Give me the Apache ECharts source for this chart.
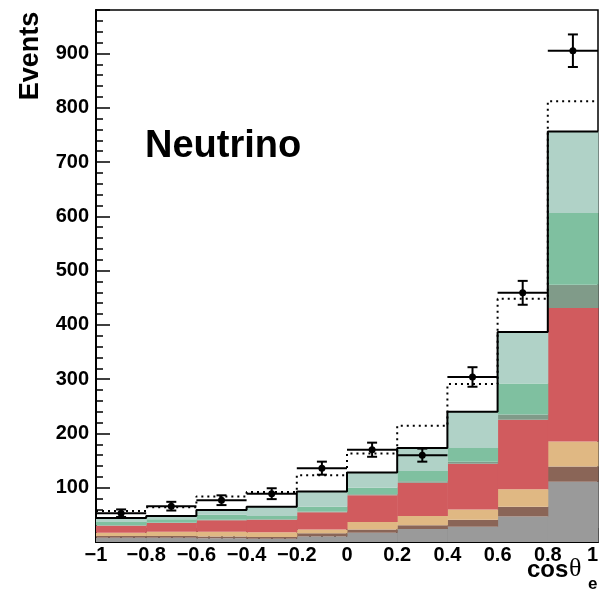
<!DOCTYPE html>
<html>
<head>
<meta charset="utf-8">
<script src="https://cdn.jsdelivr.net/npm/echarts@6/dist/echarts.min.js"></script>
<style>
  html, body { margin: 0; padding: 0; background: #ffffff; }
  #chart { width: 601px; height: 595px; }
</style>
</head>
<body>
<div id="chart"></div>
<script>
// Bin edges of the cos(theta_e) histogram
const binEdges = [-1, -0.8, -0.6, -0.4, -0.2, 0, 0.2, 0.4, 0.6, 0.8, 1];

// Expected event counts per bin for each stacked component (bottom to top)
const compGray      = [8, 8, 7, 6, 10, 17, 24, 28, 47, 111];
const compBrown     = [3, 3, 3, 3, 6, 6, 7, 13, 18, 28];
const compTan       = [6, 8, 9, 9, 7, 14, 17, 19, 32, 46];
const compRed       = [13, 16, 21, 23, 32, 49, 61, 84, 128, 246];
const compDarkGreen = [1, 1, 1, 1, 1, 2, 3, 4, 10, 43];
const compGreen     = [6, 6, 9, 6, 9, 12, 19, 25, 57, 132];
const compMint      = [7, 6, 9, 17, 28, 28, 42, 67, 95, 150];

// Alternative prediction (dotted histogram)
const altPrediction = [57, 64, 84, 92, 123, 163, 214, 291, 448, 812];

// Measured events and their uncertainties
const dataCounts = [53, 66, 77, 89, 136, 170, 160, 304, 459, 905];
const dataErrors = [7, 8, 9, 10, 12, 13, 12, 18, 22, 30];

// Axis ticks
const yTicks = [100, 200, 300, 400, 500, 600, 700, 800, 900];

const layers = [
  { values: compGray,      color: '#9a9a9a' },
  { values: compBrown,     color: '#8a6557' },
  { values: compTan,       color: '#e0b883' },
  { values: compRed,       color: '#d15b5e' },
  { values: compDarkGreen, color: '#809b89' },
  { values: compGreen,     color: '#7fc0a0' },
  { values: compMint,      color: '#b0d2c7' }
];

const nBins = binEdges.length - 1;
const series = [];
const base = new Array(nBins).fill(0);

layers.forEach(layer => {
  const data = layer.values.map((v, i) => [binEdges[i], binEdges[i + 1], base[i], base[i] + v]);
  layer.values.forEach((v, i) => { base[i] += v; });
  series.push({
    type: 'custom',
    silent: true,
    z: 2,
    data: data,
    encode: { x: [0, 1], y: [2, 3] },
    renderItem: (params, api) => {
      const p0 = api.coord([api.value(0), api.value(2)]);
      const p1 = api.coord([api.value(1), api.value(3)]);
      return {
        type: 'rect',
        shape: { x: p0[0], y: p1[1], width: p1[0] - p0[0] + 0.5, height: p0[1] - p1[1] },
        style: { fill: layer.color }
      };
    }
  });
});

const total = base.slice();

function stepPoints(vals) {
  const pts = vals.map((v, i) => [binEdges[i], v]);
  pts.push([binEdges[vals.length], vals[vals.length - 1]]);
  return pts;
}

// Stack outline
series.push({
  type: 'line',
  step: 'end',
  silent: true,
  z: 4,
  symbol: 'none',
  data: stepPoints(total),
  lineStyle: { color: '#000', width: 2 }
});

// Dotted prediction
series.push({
  type: 'line',
  step: 'end',
  silent: true,
  z: 5,
  symbol: 'none',
  data: stepPoints(altPrediction),
  lineStyle: { color: '#000', width: 2, type: [2, 4] }
});

// Data points with error bars
series.push({
  type: 'custom',
  silent: true,
  z: 6,
  data: dataCounts.map((v, i) => [binEdges[i], binEdges[i + 1], v, dataErrors[i]]),
  encode: { x: [0, 1], y: [2] },
  renderItem: (params, api) => {
    const lo = api.value(0), hi = api.value(1), v = api.value(2), e = api.value(3);
    const xm = (lo + hi) / 2;
    const pl = api.coord([lo, v]);
    const pr = api.coord([hi, v]);
    const pt = api.coord([xm, v + e]);
    const pb = api.coord([xm, v - e]);
    const pc = api.coord([xm, v]);
    const st = { stroke: '#000', lineWidth: 2 };
    const cap = 5;
    return {
      type: 'group',
      children: [
        { type: 'line', shape: { x1: pl[0], y1: pl[1], x2: pr[0], y2: pr[1] }, style: st },
        { type: 'line', shape: { x1: pt[0], y1: pt[1], x2: pb[0], y2: pb[1] }, style: st },
        { type: 'line', shape: { x1: pt[0] - cap, y1: pt[1], x2: pt[0] + cap, y2: pt[1] }, style: st },
        { type: 'line', shape: { x1: pb[0] - cap, y1: pb[1], x2: pb[0] + cap, y2: pb[1] }, style: st },
        { type: 'circle', shape: { cx: pc[0], cy: pc[1], r: 3.5 }, style: { fill: '#000' } }
      ]
    };
  }
});

const labelFont = {
  fontFamily: 'Liberation Sans, Arial, sans-serif',
  fontWeight: 'bold',
  fontSize: 20,
  color: '#000'
};

const chart = echarts.init(document.getElementById('chart'), null, { renderer: 'canvas' });
chart.setOption({
  animation: false,
  backgroundColor: '#fff',
  grid: {
    left: 96, right: 0, top: 10, bottom: 53,
    show: true, borderColor: '#000', borderWidth: 1.5, backgroundColor: 'transparent'
  },
  xAxis: {
    type: 'value',
    min: -1, max: 1, interval: 0.2,
    axisLine: { show: true, onZero: false, lineStyle: { color: '#000', width: 2 } },
    axisTick: { show: true, inside: true, length: 14, lineStyle: { color: '#000', width: 1.5 } },
    minorTick: { show: true, splitNumber: 4, length: 7, lineStyle: { color: '#000', width: 1.5 } },
    splitLine: { show: false },
    axisLabel: Object.assign({}, labelFont, {
      margin: 3,
      alignMaxLabel: 'right',
      formatter: v => {
        const r = Math.round(v * 10) / 10;
        if (r === 0) return '0';
        return (r < 0 ? '\u2212' : '') + String(Math.abs(r));
      }
    })
  },
  yAxis: {
    type: 'value',
    min: 0, max: 980, interval: 100,
    axisLine: { show: true, onZero: false, lineStyle: { color: '#000', width: 2 } },
    axisTick: { show: true, inside: true, length: 14, lineStyle: { color: '#000', width: 1.5 } },
    minorTick: { show: true, splitNumber: 5, length: 7, lineStyle: { color: '#000', width: 1.5 } },
    splitLine: { show: false },
    axisLabel: Object.assign({}, labelFont, {
      margin: 7,
      showMaxLabel: false,
      formatter: v => (yTicks.indexOf(Math.round(v)) >= 0 ? String(Math.round(v)) : '')
    })
  },
  graphic: [
    {
      type: 'text', x: 31, y: 56, rotation: Math.PI / 2, z: 10,
      style: { text: 'Events', font: 'bold 27px "Liberation Sans", Arial, sans-serif', fill: '#000', align: 'center', verticalAlign: 'middle' }
    },
    {
      type: 'text', x: 145, y: 147, z: 10,
      style: { text: 'Neutrino', font: 'bold 38px "Liberation Sans", Arial, sans-serif', fill: '#000', align: 'left', verticalAlign: 'middle' }
    },
    {
      type: 'text', x: 527, y: 570, z: 10,
      style: { text: 'cos', font: 'bold 24px "Liberation Sans", Arial, sans-serif', fill: '#000', align: 'left', verticalAlign: 'middle' }
    },
    {
      type: 'text', x: 569, y: 569, z: 10,
      style: { text: '\u03b8', font: '26px "Liberation Serif", "Times New Roman", serif', fill: '#000', align: 'left', verticalAlign: 'middle' }
    },
    {
      type: 'text', x: 588, y: 584, z: 10,
      style: { text: 'e', font: 'bold 17px "Liberation Sans", Arial, sans-serif', fill: '#000', align: 'left', verticalAlign: 'middle' }
    }
  ],
  series: series
});
</script>
</body>
</html>
